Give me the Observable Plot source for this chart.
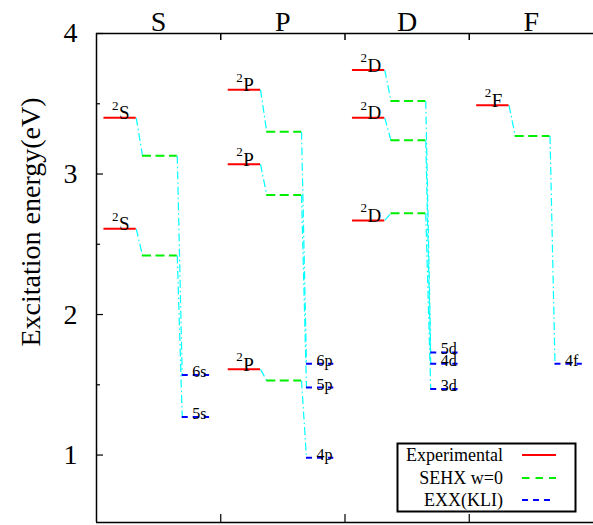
<!DOCTYPE html>
<html><head><meta charset="utf-8">
<script src="https://cdn.jsdelivr.net/npm/d3@7"></script>
<script src="https://cdn.jsdelivr.net/npm/@observablehq/plot@0.6"></script>
<style>
body{margin:0;background:#fff;}
#wrap{position:relative;width:593px;height:525px;font-family:'Liberation Serif','Times New Roman',serif;}
#wrap svg text{font-family:'Liberation Serif','Times New Roman',serif;}
#legend{position:absolute;left:396px;top:442px;}
</style></head><body><div id="wrap"></div>
<script>
// ---- data ----
const columns = ["S", "P", "D", "F"];
const levelColumn = ["S", "S", "P", "P", "P", "D", "D", "D", "F"];
const termMultiplicity = ["2", "2", "2", "2", "2", "2", "2", "2", "2"];
const termLetters = ["S", "S", "P", "P", "P", "D", "D", "D", "F"];
const expValues  = [3.40, 2.61, 3.60, 3.07, 1.61, 3.74, 3.40, 2.67, 3.49];
const sehxValues = [3.13, 2.42, 3.30, 2.85, 1.53, 3.52, 3.24, 2.72, 3.27];
const exxValues  = [1.57, 1.27, 1.65, 1.48, 0.98, 1.73, 1.65, 1.47, 1.65];
const exxLabels  = ["6s", "5s", "6p", "5p", "4p", "5d", "4d", "3d", "4f"];
const yTicks = [1, 2, 3, 4];
const yMinorTicks = [1.5, 2.5, 3.5];
const yDomain = [0.52, 4];
const yLabel = "Excitation energy(eV)";
const seriesNames = ["Experimental", "SEHX w=0", "EXX(KLI)"];
const seriesColors = ["#ff0000", "#00ee00", "#0000ff"];
const seriesDash = [null, "9,4.5", "6,5"];

// ---- layout (fractions of a column) ----
const span = {exp: [0.06, 0.32], sehx: [0.37, 0.65], exx: [0.69, 0.91]};
const rows = levelColumn.map((c, i) => ({
  k: columns.indexOf(c), exp: expValues[i], sehx: sehxValues[i], exx: exxValues[i],
  mult: termMultiplicity[i], letter: termLetters[i], orb: exxLabels[i]
}));
const seg = (key) => rows.map(r => ({x1: r.k + span[key][0], x2: r.k + span[key][1], y: r[key], r}));
const links = rows.flatMap(r => [
  {x1: r.k + span.exp[1], y1: r.exp, x2: r.k + span.sehx[0], y2: r.sehx},
  {x1: r.k + span.sehx[1], y1: r.sehx, x2: r.k + span.exx[0], y2: r.exx}
]);
const font = "'Liberation Serif','Times New Roman',serif";

const chart = Plot.plot({
  width: 593, height: 525,
  marginLeft: 96, marginRight: 0, marginTop: 33, marginBottom: 3,
  style: `font-family: ${font}; background: #fff;`,
  x: {domain: [0, 4], axis: null},
  y: {domain: yDomain, axis: null},
  marks: [
    Plot.ruleY([yDomain[1]], {stroke: "#000", strokeWidth: 1.5}),
    Plot.ruleY([yDomain[0]], {stroke: "#000", strokeWidth: 1.5}),
    Plot.ruleX([0], {stroke: "#000", strokeWidth: 1.5}),
    Plot.axisY({ticks: yTicks, tickSize: 0, tickPadding: 19, tickFormat: d => String(d), fontSize: 28, fontFamily: font, label: null, fill: "#000"}),
    Plot.axisY({ticks: yTicks, tickSize: -7, tickFormat: () => "", label: null, strokeWidth: 1.2}),
    Plot.axisY({ticks: yMinorTicks, tickSize: -4, tickFormat: () => "", label: null, strokeWidth: 1.2}),
    Plot.axisX({anchor: "top", ticks: [0.5, 1.5, 2.5, 3.5], tickFormat: d => columns[Math.floor(d)], tickSize: 0, tickPadding: 3, fontSize: 28, fontFamily: font, label: null, fill: "#000"}),
    Plot.axisX({anchor: "top", ticks: [1, 2, 3], tickSize: -6, tickFormat: () => "", label: null, strokeWidth: 1.5}),
    Plot.axisX({anchor: "bottom", ticks: [1, 2, 3], tickSize: -8, tickFormat: () => "", label: null, strokeWidth: 1.2}),
    Plot.link(links, {x1: "x1", y1: "y1", x2: "x2", y2: "y2", stroke: "#00ffff", strokeWidth: 1.2, strokeDasharray: "8,3,1.5,3"}),
    Plot.ruleY(seg("exp"), {x1: "x1", x2: "x2", y: "y", stroke: seriesColors[0], strokeWidth: 2}),
    Plot.ruleY(seg("sehx"), {x1: "x1", x2: "x2", y: "y", stroke: seriesColors[1], strokeWidth: 2, strokeDasharray: seriesDash[1]}),
    Plot.ruleY(seg("exx"), {x1: "x1", x2: "x2", y: "y", stroke: seriesColors[2], strokeWidth: 2, strokeDasharray: seriesDash[2]}),
    Plot.text(seg("exp"), {x: "x1", y: "y", text: d => d.r.mult, textAnchor: "start", lineAnchor: "bottom", dx: 8, dy: -8, fontSize: 13, fontFamily: font, fill: "#000"}),
    Plot.text(seg("exp"), {x: "x1", y: "y", text: d => d.r.letter, textAnchor: "start", lineAnchor: "bottom", dx: 15, dy: 1.5, fontSize: 19, fontFamily: font, fill: "#000"}),
    Plot.text(seg("exx"), {x: "x1", y: "y", text: d => d.r.orb, textAnchor: "start", lineAnchor: "bottom", dx: 10, dy: 2, fontSize: 16, fontFamily: font, fill: "#000"})
  ]
});
const wrap = document.getElementById("wrap");
wrap.appendChild(chart);

// y-axis title
d3.select(chart).append("text")
  .attr("transform", "translate(30,222) rotate(-90)")
  .attr("text-anchor", "middle").attr("dy", "0.35em")
  .attr("font-family", font).attr("font-size", 28).attr("fill", "#000")
  .text(yLabel);

// ---- legend ----
const lg = d3.select(wrap).append("svg").attr("id", "legend").attr("width", 182).attr("height", 72);
lg.append("rect").attr("x", 1.5).attr("y", 1.5).attr("width", 178).attr("height", 68)
  .attr("fill", "#fff").attr("stroke", "#000").attr("stroke-width", 2);
const rowY = [13, 36, 58];
seriesNames.forEach((n, i) => {
  lg.append("text").attr("x", 107).attr("y", rowY[i]).attr("dy", "0.32em").attr("text-anchor", "end")
    .attr("font-family", font).attr("font-size", 18).attr("fill", "#000").text(n);
  lg.append("line").attr("x1", 126).attr("x2", i === 2 ? 154 : 160).attr("y1", rowY[i]).attr("y2", rowY[i])
    .attr("stroke", seriesColors[i]).attr("stroke-width", 2)
    .attr("stroke-dasharray", i === 1 ? "7.5,6" : seriesDash[i]);
});
</script></body></html>
